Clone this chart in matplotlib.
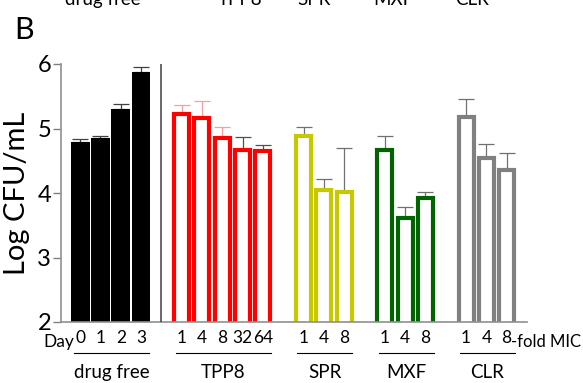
import matplotlib
matplotlib.use("Agg")
import matplotlib.pyplot as plt
from matplotlib.transforms import blended_transform_factory

plt.rcParams['font.family'] = ['Lato', 'DejaVu Sans']

# data (log CFU/mL, mean and upper error)
groups = ["drug free", "TPP8", "SPR", "MXF", "CLR"]
drug_free_labels = ["0", "1", "2", "3"]
tpp8_labels = ["1", "4", "8", "32", "64"]
spr_labels = ["1", "4", "8"]
mxf_labels = ["1", "4", "8"]
clr_labels = ["1", "4", "8"]

drug_free_mean = [4.79, 4.85, 5.30, 5.88]
drug_free_err = [0.04, 0.03, 0.08, 0.08]
tpp8_mean = [5.23, 5.16, 4.85, 4.66, 4.65]
tpp8_err = [0.14, 0.27, 0.18, 0.21, 0.09]
spr_mean = [4.88, 4.05, 4.01]
spr_err = [0.15, 0.17, 0.69]
mxf_mean = [4.66, 3.62, 3.92]
mxf_err = [0.22, 0.17, 0.09]
clr_mean = [5.18, 4.54, 4.35]
clr_err = [0.28, 0.22, 0.27]

# top strip: labels of the panel above, cut off by the crop
above_labels = ["drug free", "TPP8", "SPR", "MXF", "CLR"]

all_labels = [drug_free_labels, tpp8_labels, spr_labels, mxf_labels, clr_labels]
all_means = [drug_free_mean, tpp8_mean, spr_mean, mxf_mean, clr_mean]
all_errs = [drug_free_err, tpp8_err, spr_err, mxf_err, clr_err]
colors = ["#000000", "#ff0000", "#c8c800", "#006400", "#808080"]
filled = [True, False, False, False, False]

W, H = 583, 383
fig = plt.figure(figsize=(W / 100, H / 100), dpi=100)
ax = fig.add_axes([61 / W, 1 - 322 / H, (527 - 61) / W, (322 - 64) / H])

trans = blended_transform_factory(ax.transData, ax.transAxes)

pos = 0
tick_pos, tick_lab = [], []
group_spans = []
for gi, (labs, means, errs) in enumerate(zip(all_labels, all_means, all_errs)):
    xs = list(range(pos, pos + len(means)))
    col = colors[gi]
    if filled[gi]:
        ax.bar(xs, means, width=0.93, bottom=0, color=col, edgecolor="none", zorder=2)
        ecol = ["#404040"] * len(xs)
    else:
        ax.bar(xs, means, width=0.74, color="white", edgecolor=col, linewidth=3, zorder=2)
        if gi == 1:
            ecol = ["#f4a0a0"] * 3 + ["#505050"] * 2
        else:
            ecol = ["#707070"] * len(xs)
    for x, m, e, c in zip(xs, means, errs, ecol):
        ax.errorbar(x, m, yerr=[[0], [e]], fmt="none", ecolor=c, elinewidth=0.9,
                    capsize=5.5, capthick=0.9, zorder=1)
    tick_pos += xs
    tick_lab += labs
    group_spans.append((xs[0], xs[-1]))
    pos += len(means) + 1

# separator after drug free
ax.plot([4, 4], [2, 6], color="#404040", linewidth=1.1, zorder=3)

ax.set_xlim(-0.94, 22.0)
ax.set_ylim(2, 6)
ax.set_yticks([2, 3, 4, 5, 6])
ax.set_xticks(tick_pos, tick_lab)
ax.tick_params(axis="x", length=0, pad=6, labelsize=12.5)
ax.tick_params(axis="y", length=6, width=1, color="#808080", labelsize=17, pad=1)
for s in ["top", "right"]:
    ax.spines[s].set_visible(False)
for s in ["left", "bottom"]:
    ax.spines[s].set_color("#909090")
    ax.spines[s].set_linewidth(1.2)

ax.set_ylabel("Log CFU/mL", fontsize=21, labelpad=5)

ax.text(-0.3, -0.076, "Day", transform=trans, ha="right", va="center", fontsize=12.5)
ax.text(21.2, -0.076, "-fold MIC", transform=trans, ha="left", va="center", fontsize=12)

for name, (a, b) in zip(groups, group_spans):
    ax.plot([a - 0.3, b + 0.4], [-0.120, -0.120], transform=trans, color="black",
            linewidth=0.8, clip_on=False)
    ax.text((a - 0.3 + b + 0.4) / 2, -0.194, name, transform=trans, ha="center",
            va="center", fontsize=13.5)

for name, xc in zip(above_labels, [103, 240, 314, 393, 472]):
    fig.text(xc / W, 1 - 5 / H, name, ha="center", va="baseline", fontsize=13.5)

fig.text(14 / W, 1 - 39 / H, "B", fontsize=22, va="baseline")

fig.savefig("out.png", dpi=100)
